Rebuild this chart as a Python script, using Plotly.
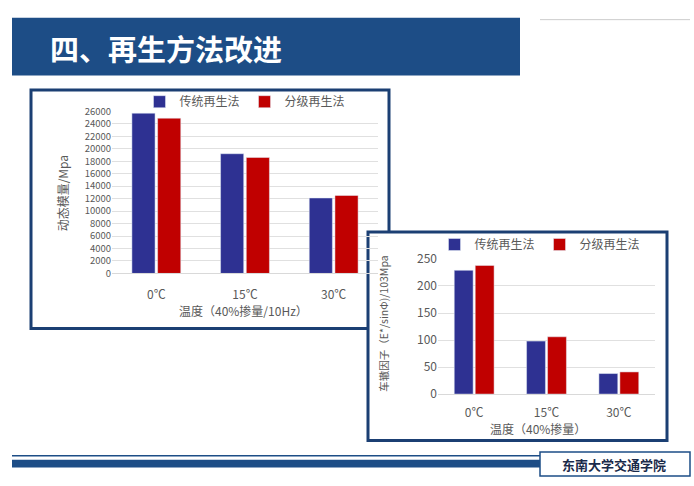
import plotly.graph_objects as go

cats = ["0℃", "15℃", "30℃"]
series = ["传统再生法", "分级再生法"]
mod_trad = [25700, 19200, 12100]
mod_grad = [24900, 18600, 12500]
rut_trad = [229, 98, 38]
rut_grad = [238, 106, 41]
colors = ["#2e3192", "#c00000"]

W, H = 694, 486
def fx(p): return p / W
def fy(p): return 1 - p / H

fig = go.Figure()
for name, vals, c in zip(series, [mod_trad, mod_grad], colors):
    fig.add_bar(x=cats, y=vals, name=name, marker_color=c, xaxis="x", yaxis="y", legend="legend")
for name, vals, c in zip(series, [rut_trad, rut_grad], colors):
    fig.add_bar(x=cats, y=vals, name=name, marker_color=c, xaxis="x2", yaxis="y2", legend="legend2")

navy = "#1b3f73"
P = dict(xref="paper", yref="paper")
shapes = [
    dict(type="rect", **P, x0=fx(12), x1=fx(520), y0=fy(68), y1=fy(8), fillcolor="#1d4d86", line_width=0, layer="below"),
    dict(type="line", **P, x0=fx(540), x1=fx(690), y0=fy(10), y1=fy(10), line=dict(color="#cccccc", width=1)),
    dict(type="rect", **P, x0=fx(31), x1=fx(389), y0=fy(330), y1=fy(83), fillcolor="white", line=dict(color=navy, width=3), layer="below"),
    dict(type="rect", **P, x0=fx(12), x1=fx(690), y0=fy(474), y1=fy(466), fillcolor="#1d4d86", line_width=0, layer="below"),
    dict(type="line", **P, x0=fx(12), x1=fx(690), y0=fy(462), y1=fy(462), line=dict(color="#1d4d86", width=1.5), layer="below"),
    dict(type="rect", **P, x0=fx(368), x1=fx(667), y0=fy(446), y1=fy(230), fillcolor="white", line=dict(color=navy, width=3), layer="below"),
    dict(type="rect", **P, x0=fx(540), x1=fx(690), y0=fy(483), y1=fy(458), fillcolor="white", line=dict(color="#1d4d86", width=1.5), layer="below"),
]

txt = "#595959"
font = "Noto Sans CJK SC"
anns = [
    dict(text="<b>四、再生方法改进</b>", x=fx(48), y=fy(39), xanchor="left", font=dict(size=29, color="white", family=font)),
    dict(text="动态模量/Mpa", x=fx(62), y=fy(190), textangle=-90, font=dict(size=12, color=txt, family=font)),
    dict(text="温度（40%掺量/10Hz）", x=fx(243), y=fy(311), font=dict(size=12, color=txt, family=font)),
    dict(text="车辙因子（E*/sinΦ)/103Mpa", x=fx(384), y=fy(325), textangle=-90, font=dict(size=10.5, color=txt, family=font)),
    dict(text="温度（40%掺量）", x=fx(538), y=fy(434), font=dict(size=12, color=txt, family=font)),
    dict(text="<b>东南大学交通学院</b>", x=fx(614), y=fy(471), font=dict(size=13, color="#1a2a4a", family=font)),
]
for a in anns:
    a.update(xref="paper", yref="paper", showarrow=False, yanchor="middle")
    a.setdefault("xanchor", "center")

axfont = dict(size=12, color=txt, family=font)
fig.update_layout(
    width=W, height=H, margin=dict(l=0, r=0, t=0, b=0),
    paper_bgcolor="white", plot_bgcolor="rgba(0,0,0,0)",
    barmode="group", bargap=0.42, bargroupgap=0.1,
    shapes=shapes, annotations=anns,
    xaxis=dict(domain=[fx(112), fx(378)], anchor="y", tickfont=axfont, showline=True, linecolor="#d9d9d9", ticks="", ticklabelstandoff=10),
    yaxis=dict(domain=[fy(273), fy(105)], anchor="x", range=[0, 26000], dtick=2000, tickfont=dict(size=9.5, color=txt, family=font), gridcolor="#e0e0e0", showline=False, zeroline=False, tickformat="d"),
    xaxis2=dict(domain=[fx(438), fx(655)], anchor="y2", tickfont=axfont, showline=True, linecolor="#d9d9d9", ticks="", ticklabelstandoff=8),
    yaxis2=dict(domain=[fy(398), fy(258)], anchor="x2", range=[0, 250], dtick=50, tickfont=axfont, gridcolor="#e0e0e0", showline=False, zeroline=False),
    legend=dict(orientation="h", x=fx(245), y=fy(95), xanchor="center", yanchor="middle", font=dict(size=12, color=txt, family=font), bgcolor="rgba(0,0,0,0)"),
    legend2=dict(orientation="h", x=fx(540), y=fy(243), xanchor="center", yanchor="middle", font=dict(size=12, color=txt, family=font), bgcolor="rgba(0,0,0,0)"),
)
fig.write_html("out.html", config={"displayModeBar": False},
               post_script="document.body.style.margin='0';document.body.style.padding='0';")
